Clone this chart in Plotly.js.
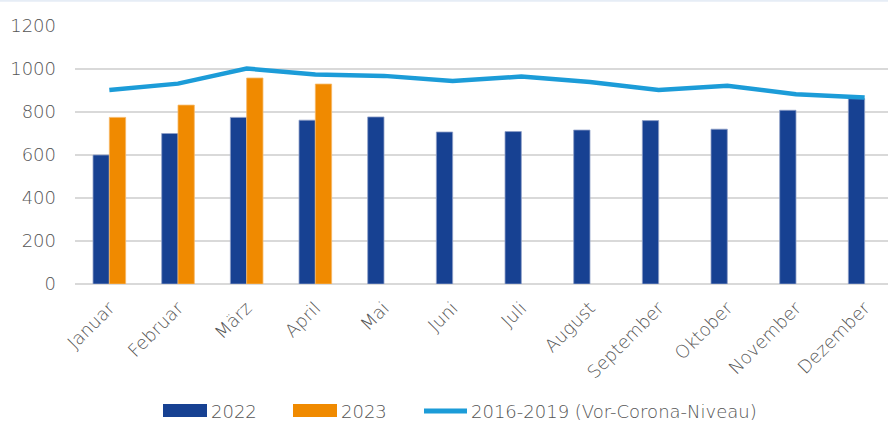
<!DOCTYPE html>
<html><head><meta charset="utf-8">
<script src="https://cdn.plot.ly/plotly-3.0.1.min.js"></script>
<style>html,body{margin:0;padding:0;background:#fff;overflow:hidden}</style>
</head><body><div id="chart" style="width:888px;height:425px"></div>
<script>
const months = ["Januar","Februar","März","April","Mai","Juni","Juli","August","September","Oktober","November","Dezember"];
const values2022 = [600,700,775,762,777,707,709,716,760,720,808,862];
const values2023 = [775,832,958,930,null,null,null,null,null,null,null,null];
const valuesPreCorona = [902,932,1002,975,968,944,965,940,902,922,883,868];
const seriesNames = ["2022","2023","2016-2019 (Vor-Corona-Niveau)"];
const yTicks = [0,200,400,600,800,1000,1200];

const colBlue = "#174192", colOrange = "#F08A00", colLine = "#1C9CD8";
const fontFam = "'DejaVu Sans', sans-serif";
const fontW = 200;
const textCol = "#555555";

const data = [
  {type:"bar", x:months, y:values2022, name:seriesNames[0],
   marker:{color:colBlue, line:{color:"#8fa0c8", width:0.8}}},
  {type:"bar", x:months, y:values2023, name:seriesNames[1],
   marker:{color:colOrange, line:{color:"#f6b866", width:0.8}}},
  {type:"scatter", mode:"lines", x:months, y:valuesPreCorona, name:seriesNames[2],
   line:{color:colLine, width:4.5}}
];

// manual legend
const shapes = [
  {type:"line", xref:"paper", yref:"paper", x0:-0.1, x1:1.1, y0:1.1, y1:1.1, line:{color:"#e6edf6", width:3}},
  {type:"rect", xref:"paper", yref:"paper", x0:(163-75)/813, x1:(207-75)/813, y0:(284-417)/258, y1:(284-404)/258, fillcolor:colBlue, line:{width:0}},
  {type:"rect", xref:"paper", yref:"paper", x0:(293-75)/813, x1:(337-75)/813, y0:(284-417)/258, y1:(284-404)/258, fillcolor:colOrange, line:{width:0}},
  {type:"line", xref:"paper", yref:"paper", x0:(424-75)/813, x1:(467-75)/813, y0:(284-411)/258, y1:(284-411)/258, line:{color:colLine, width:5}}
];
const legX = [209, 339, 469];
const annotations = seriesNames.map((n,i)=>({
  xref:"paper", yref:"paper", x:(legX[i]-75)/813, y:(284-411)/258,
  xanchor:"left", yanchor:"middle", text:n, showarrow:false,
  font:{family:fontFam, size:18, color:textCol, weight:fontW}
}));

const layout = {
  width:888, height:425,
  margin:{l:75, r:0, t:26, b:141},
  paper_bgcolor:"#fff", plot_bgcolor:"#fff",
  barmode:"group", bargap:0.525, bargroupgap:0,
  showlegend:false,
  xaxis:{type:"category", range:[-0.5, 11.34], tickangle:-45,
    tickfont:{family:fontFam, size:18, color:textCol, weight:fontW},
    showgrid:false, showline:false, zeroline:false, ticks:"", ticklabelstandoff:9},
  yaxis:{range:[0,1200], tickvals:yTicks, ticktext:yTicks.map(String),
    tickfont:{family:fontFam, size:18, color:textCol, weight:fontW},
    showgrid:true, gridcolor:"#d9d9d9", gridwidth:1.5, zeroline:true, zerolinecolor:"#d9d9d9", zerolinewidth:1.5,
    showline:false, ticks:"", ticklabelstandoff:18},
  shapes:shapes, annotations:annotations
};
Plotly.newPlot("chart", data, layout, {displayModeBar:false, staticPlot:true});
</script></body></html>
